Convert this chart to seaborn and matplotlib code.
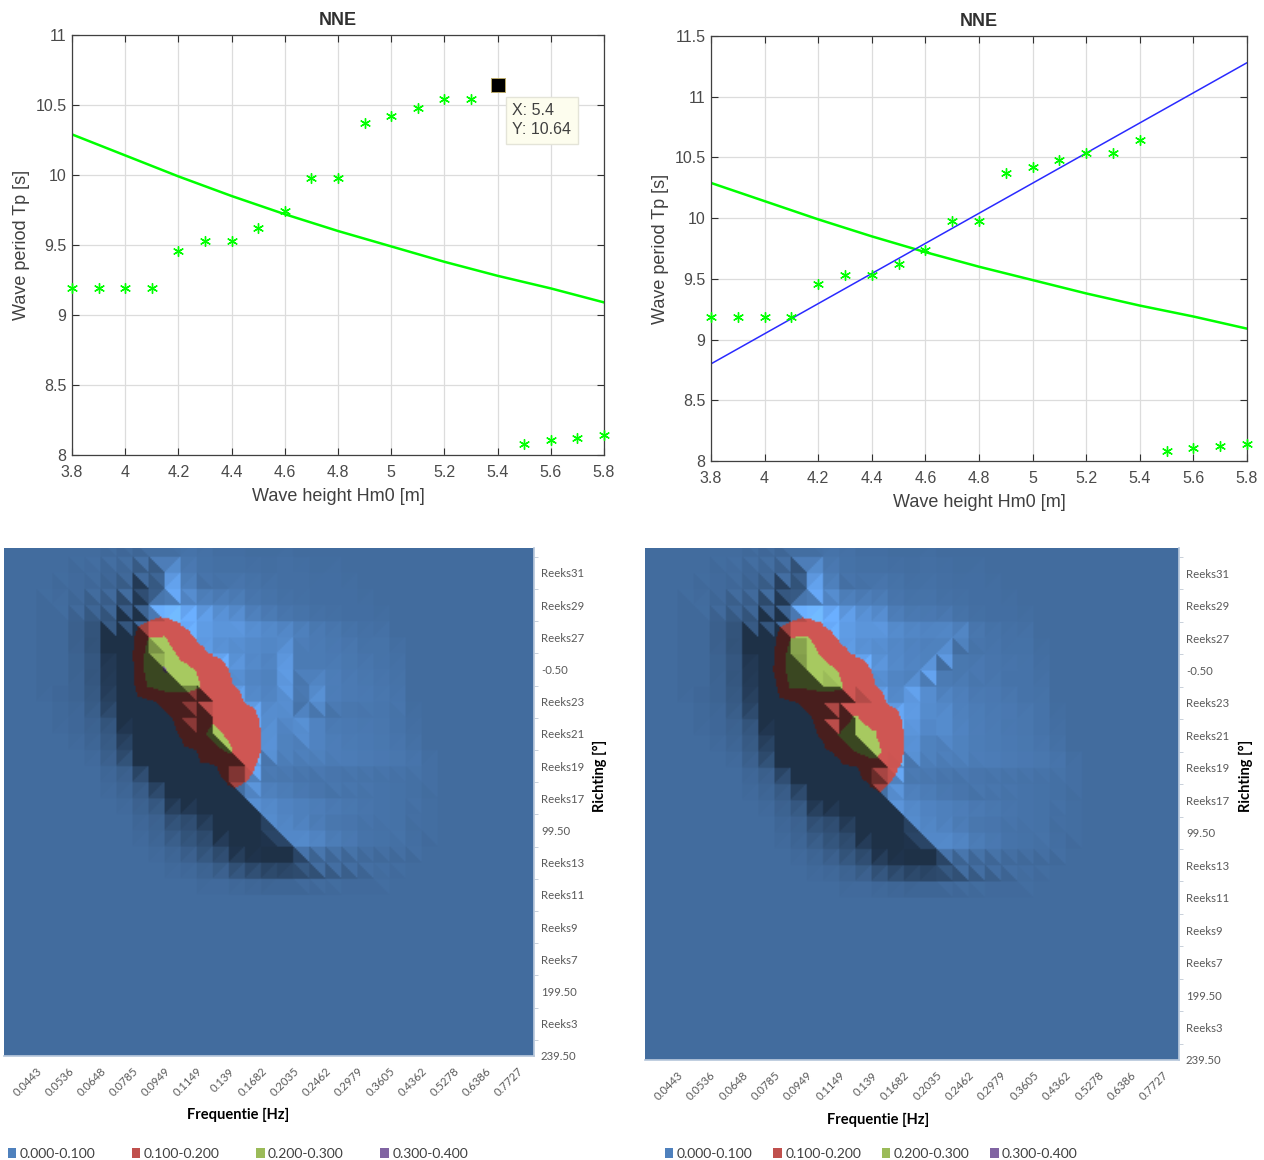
import numpy as np
import pandas as pd
import matplotlib
matplotlib.use("Agg")
import matplotlib.pyplot as plt
from matplotlib.patches import Patch
import seaborn as sns

# wave height / period points
hm0 = [3.8, 3.9, 4.0, 4.1, 4.2, 4.3, 4.4, 4.5, 4.6, 4.7, 4.8, 4.9, 5.0, 5.1, 5.2, 5.3, 5.4, 5.5, 5.6, 5.7, 5.8]
tp = [9.19, 9.19, 9.19, 9.19, 9.46, 9.53, 9.53, 9.62, 9.74, 9.98, 9.98, 10.37, 10.42, 10.48, 10.54, 10.54, 10.64, 8.08, 8.11, 8.12, 8.14]
curve_x = [3.8, 4.0, 4.2, 4.4, 4.6, 4.8, 5.0, 5.2, 5.4, 5.6, 5.8]
curve_y = [10.29, 10.14, 9.99, 9.85, 9.72, 9.6, 9.49, 9.38, 9.28, 9.19, 9.09]
fit_x = [3.8, 5.8]
fit_y = [8.8, 11.28]

freq_labels = ["0.0443", "0.0536", "0.0648", "0.0785", "0.0949", "0.1149", "0.139", "0.1682",
               "0.2035", "0.2462", "0.2979", "0.3605", "0.4362", "0.5278", "0.6386", "0.7727"]
dir_labels = ["239.50", "Reeks3", "199.50", "Reeks7", "Reeks9", "Reeks11", "Reeks13", "99.50",
              "Reeks17", "Reeks19", "Reeks21", "Reeks23", "-0.50", "Reeks27", "Reeks29", "Reeks31"]
band_labels = ["0.000-0.100", "0.100-0.200", "0.200-0.300", "0.300-0.400"]
band_colors = ["#4F81BD", "#C0504D", "#9BBB59", "#8064A2"]

# spectrum values x1000, series 33 (top) down to series 11, frequency columns 3..26
spec_left = [
    [0, 0, 0, 0, 0, 1, 2, 3, 3, 2, 1, 1, 0, 0, 0, 0, 0, 0, 0, 0, 0, 0, 0, 0],
    [0, 0, 0, 0, 1, 3, 6, 7, 8, 5, 3, 2, 1, 1, 1, 0, 0, 0, 0, 0, 0, 0, 0, 0],
    [0, 0, 1, 2, 5, 9, 18, 30, 14, 8, 6, 5, 4, 3, 3, 2, 1, 1, 0, 0, 0, 0, 0, 0],
    [0, 1, 2, 4, 8, 15, 35, 50, 22, 12, 12, 12, 9, 7, 5, 4, 3, 2, 1, 0, 0, 0, 0, 0],
    [1, 1, 3, 8, 15, 30, 55, 48, 38, 32, 28, 22, 15, 11, 8, 6, 4, 3, 2, 1, 0, 0, 0, 0],
    [1, 2, 6, 14, 25, 50, 100, 115, 92, 72, 55, 42, 28, 20, 14, 10, 7, 5, 3, 2, 1, 0, 0, 0],
    [1, 2, 6, 14, 35, 85, 200, 205, 125, 95, 78, 65, 52, 42, 34, 24, 17, 12, 8, 5, 3, 0, 0, 0],
    [1, 2, 5, 12, 30, 95, 235, 255, 175, 115, 95, 80, 68, 58, 50, 30, 24, 18, 13, 8, 5, 2, 0, 0],
    [1, 2, 5, 12, 28, 90, 240, 310, 235, 195, 130, 100, 82, 70, 60, 36, 30, 24, 17, 12, 7, 3, 0, 0],
    [1, 2, 4, 10, 25, 80, 210, 245, 250, 215, 140, 105, 88, 76, 66, 44, 42, 30, 22, 15, 9, 4, 0, 0],
    [0, 1, 3, 8, 20, 45, 85, 115, 130, 135, 145, 125, 98, 84, 72, 55, 54, 34, 25, 18, 11, 5, 0, 0],
    [0, 1, 2, 5, 12, 30, 55, 85, 115, 135, 185, 150, 125, 95, 78, 62, 42, 30, 24, 17, 11, 5, 1, 0],
    [0, 0, 1, 3, 8, 22, 45, 75, 105, 165, 225, 185, 135, 100, 78, 64, 46, 34, 26, 19, 12, 6, 2, 0],
    [0, 0, 0, 1, 5, 15, 35, 60, 80, 100, 175, 215, 150, 100, 76, 62, 50, 38, 29, 21, 14, 8, 3, 0],
    [0, 0, 0, 0, 2, 6, 18, 40, 60, 75, 90, 130, 125, 85, 72, 60, 50, 40, 32, 24, 17, 11, 6, 2],
    [0, 0, 0, 0, 1, 3, 8, 20, 40, 55, 75, 105, 100, 75, 63, 52, 43, 35, 27, 20, 14, 9, 5, 2],
    [0, 0, 0, 0, 0, 1, 4, 10, 25, 40, 60, 78, 92, 74, 60, 48, 38, 30, 24, 18, 13, 8, 4, 1],
    [0, 0, 0, 0, 0, 0, 2, 5, 14, 22, 35, 52, 68, 80, 64, 52, 42, 33, 25, 18, 12, 7, 3, 1],
    [0, 0, 0, 0, 0, 0, 1, 3, 8, 14, 22, 38, 52, 64, 70, 56, 42, 30, 22, 15, 10, 6, 2, 1],
    [0, 0, 0, 0, 0, 0, 0, 1, 3, 7, 13, 20, 33, 46, 56, 62, 46, 32, 22, 14, 9, 5, 2, 0],
    [0, 0, 0, 0, 0, 0, 0, 0, 1, 2, 4, 8, 14, 20, 25, 28, 24, 16, 10, 6, 3, 1, 0, 0],
    [0, 0, 0, 0, 0, 0, 0, 0, 0, 0, 1, 1, 2, 3, 4, 4, 3, 2, 1, 1, 1, 0, 0, 0],
    [0, 0, 0, 0, 0, 0, 0, 0, 0, 0, 0, 0, 0, 0, 0, 0, 0, 0, 0, 0, 0, 0, 0, 0],
]
spec_right = [
    [0, 0, 0, 0, 0, 1, 2, 3, 3, 2, 1, 1, 0, 0, 0, 0, 0, 0, 0, 0, 0, 0, 0, 0],
    [0, 0, 0, 0, 1, 3, 6, 7, 8, 5, 3, 2, 1, 1, 1, 0, 0, 0, 0, 0, 0, 0, 0, 0],
    [0, 0, 1, 2, 5, 9, 16, 30, 14, 8, 6, 5, 4, 3, 3, 2, 1, 1, 0, 0, 0, 0, 0, 0],
    [0, 1, 2, 4, 8, 15, 33, 50, 22, 12, 12, 12, 9, 7, 6, 4, 3, 2, 1, 0, 0, 0, 0, 0],
    [1, 1, 3, 8, 15, 30, 55, 48, 38, 32, 28, 22, 15, 12, 10, 7, 5, 3, 2, 1, 0, 0, 0, 0],
    [1, 2, 6, 14, 25, 50, 100, 115, 92, 72, 55, 42, 28, 22, 18, 14, 8, 5, 3, 2, 1, 0, 0, 0],
    [1, 2, 6, 14, 35, 85, 200, 215, 125, 95, 78, 65, 52, 44, 38, 32, 24, 12, 8, 5, 3, 0, 0, 0],
    [1, 2, 5, 12, 30, 100, 235, 250, 185, 115, 95, 80, 68, 58, 50, 42, 18, 14, 11, 7, 4, 1, 0, 0],
    [1, 2, 5, 12, 28, 105, 240, 280, 235, 195, 130, 100, 82, 70, 60, 30, 24, 20, 14, 10, 6, 2, 0, 0],
    [1, 2, 4, 10, 25, 80, 210, 215, 230, 215, 140, 105, 88, 76, 50, 36, 30, 22, 17, 11, 7, 3, 0, 0],
    [0, 1, 3, 8, 20, 45, 85, 115, 135, 135, 135, 125, 98, 84, 62, 48, 36, 27, 20, 14, 8, 4, 0, 0],
    [0, 1, 2, 5, 12, 30, 55, 85, 125, 145, 215, 150, 125, 95, 72, 58, 42, 32, 24, 17, 11, 5, 1, 0],
    [0, 0, 1, 3, 8, 22, 45, 75, 110, 205, 255, 225, 140, 100, 78, 64, 48, 36, 27, 19, 12, 6, 2, 0],
    [0, 0, 0, 1, 5, 15, 35, 60, 80, 115, 200, 245, 170, 100, 76, 62, 50, 38, 29, 21, 14, 8, 3, 0],
    [0, 0, 0, 0, 2, 6, 18, 40, 60, 75, 90, 140, 125, 85, 72, 60, 50, 40, 32, 24, 17, 11, 6, 2],
    [0, 0, 0, 0, 1, 3, 8, 20, 40, 55, 75, 105, 100, 75, 63, 52, 43, 35, 27, 20, 14, 9, 5, 2],
    [0, 0, 0, 0, 0, 1, 4, 10, 25, 40, 60, 78, 95, 74, 60, 48, 38, 30, 24, 18, 13, 8, 4, 1],
    [0, 0, 0, 0, 0, 0, 2, 5, 14, 22, 35, 52, 68, 80, 64, 52, 42, 33, 25, 18, 12, 7, 3, 1],
    [0, 0, 0, 0, 0, 0, 1, 3, 8, 14, 22, 38, 52, 64, 70, 56, 42, 30, 22, 15, 10, 6, 2, 1],
    [0, 0, 0, 0, 0, 0, 0, 1, 3, 7, 13, 20, 33, 46, 56, 62, 46, 32, 22, 14, 9, 5, 2, 0],
    [0, 0, 0, 0, 0, 0, 0, 0, 1, 2, 4, 8, 14, 20, 25, 28, 24, 16, 10, 6, 3, 1, 0, 0],
    [0, 0, 0, 0, 0, 0, 0, 0, 0, 0, 1, 1, 2, 3, 4, 4, 3, 2, 1, 1, 1, 0, 0, 0],
    [0, 0, 0, 0, 0, 0, 0, 0, 0, 0, 0, 0, 0, 0, 0, 0, 0, 0, 0, 0, 0, 0, 0, 0],
]

W, H = 1264, 1160
GREEN = "#00ff00"
sns.set_theme(style="white")
plt.rcParams["font.family"] = ["Liberation Sans", "DejaVu Sans"]

fig = plt.figure(figsize=(W / 100, H / 100), dpi=100, facecolor="white")


def ax_px(x0, y0, x1, y1):
    return fig.add_axes([x0 / W, 1 - y1 / H, (x1 - x0) / W, (y1 - y0) / H])


def wave_panel(ax, ymax, yticks, show_fit):
    points = pd.DataFrame({"hm0": hm0, "tp": tp})
    if not show_fit:
        points = points[points["hm0"] != 5.4]
    sns.scatterplot(data=points, x="hm0", y="tp", marker=(6, 2, 0), s=50, color=GREEN,
                    linewidth=1, ax=ax, zorder=3, clip_on=False)
    sns.lineplot(x=curve_x, y=curve_y, color=GREEN, linewidth=1.8, ax=ax, zorder=2)
    if show_fit:
        sns.lineplot(x=fit_x, y=fit_y, color="#2a2aff", linewidth=1.1, ax=ax, zorder=2)

    ax.set_xlim(3.8, 5.8)
    ax.set_ylim(8, ymax)
    ax.set_xticks(np.arange(3.8, 5.81, 0.2))
    ax.set_xticklabels(["3.8", "4", "4.2", "4.4", "4.6", "4.8", "5", "5.2", "5.4", "5.6", "5.8"])
    ax.set_yticks(yticks)
    ax.set_yticklabels([f"{t:g}" for t in yticks])
    ax.grid(True, color="#dcdcdc", linewidth=0.9)
    ax.set_axisbelow(True)
    ax.tick_params(direction="in", length=5, width=0.8, color="#303030", labelcolor="#4a4a4a",
                   labelsize=11.5, top=True, right=True, bottom=True, left=True)
    ax.tick_params(axis="x", pad=7)
    ax.tick_params(axis="y", pad=4)
    for s in ax.spines.values():
        s.set_color("#404040")
        s.set_linewidth(0.9)
    ax.set_xlabel("Wave height Hm0 [m]", fontsize=13, color="#404040", labelpad=6)
    ax.set_ylabel("Wave period Tp [s]", fontsize=13, color="#404040", labelpad=4)
    ax.set_title("NNE", fontsize=13, fontweight="bold", color="#303030", pad=7)


def shaded_surface(spec):
    # excel style surface seen from above: each cell is cut along its higher diagonal, lit from the right
    z = np.zeros((33, 34))
    z[10:33, 3:27] = np.array(spec)[::-1] / 1000
    sub = 10
    frac = (np.arange(sub) + 0.5) / sub
    ny, nx = z.shape[0] - 1, z.shape[1] - 1
    img = np.zeros((ny * sub, nx * sub, 3))
    colors = np.array([matplotlib.colors.to_rgb(c) for c in band_colors])
    top_light = np.array([1.45, 1.08, 1.08, 1.08])
    fy, fx = np.meshgrid(frac, frac, indexing="ij")
    for r in range(ny):
        for c in range(nx):
            ll, lr, ul, ur = z[r, c], z[r, c + 1], z[r + 1, c], z[r + 1, c + 1]
            if ll + ur >= ul + lr:
                first = fx >= fy
                val = np.where(first, ll + (lr - ll) * fx + (ur - lr) * fy, ll + (ur - ul) * fx + (ul - ll) * fy)
                dzdx = np.where(first, lr - ll, ur - ul)
                dzdy = np.where(first, ur - lr, ul - ll)
            else:
                first = fx + fy <= 1
                val = np.where(first, ll + (lr - ll) * fx + (ul - ll) * fy,
                               ur + (ul - ur) * (1 - fx) + (lr - ur) * (1 - fy))
                dzdx = np.where(first, lr - ll, ur - ul)
                dzdy = np.where(first, ul - ll, ur - lr)
            slope = dzdx + 0.5 * dzdy
            band = np.clip((val / 0.1).astype(int), 0, 3)
            light = 0.84 - np.where(slope > 0, 23, 13) * slope
            light = np.minimum(np.clip(light, 0.38, 1.45), top_light[band])
            img[r * sub:(r + 1) * sub, c * sub:(c + 1) * sub] = np.clip(colors[band] * light[..., None], 0, 1)
    return img


def surface_panel(ax, spec):
    ax.imshow(shaded_surface(spec), origin="lower", extent=[0, 33, 0, 32], aspect="auto",
              interpolation="bilinear")
    ax.set_xlim(0, 33)
    ax.set_ylim(0, 31.55)
    ax.yaxis.tick_right()
    ax.set_yticks(np.arange(0, 31, 2))
    ax.set_yticklabels(dir_labels)
    ax.set_yticks(np.arange(1, 32, 2), minor=True)
    ax.set_xticks(np.arange(1, 33, 2), minor=True)
    ax.set_xticks(np.arange(2, 33, 2))
    ax.set_xticklabels(freq_labels, rotation=45, ha="right", rotation_mode="anchor", fontfamily="Lato")
    ax.tick_params(which="major", length=0, labelsize=8.2, labelcolor="#595959", pad=5)
    ax.tick_params(axis="x", which="major", pad=7)
    ax.tick_params(which="minor", length=3, width=0.7, color="#c8d0da", right=True, left=False)
    for lab in ax.get_yticklabels():
        lab.set_fontfamily("Lato")
    ax.spines["left"].set_visible(False)
    ax.spines["top"].set_visible(False)
    ax.spines["right"].set_color("#b8c8dc")
    ax.spines["bottom"].set_color("#b8c8dc")


def band_legend(x, spacing):
    handles = [Patch(facecolor=c, edgecolor="none") for c in band_colors]
    fig.legend(handles, band_labels, ncol=4, loc="lower left", bbox_to_anchor=(x / W, 1 - 1160 / H),
               frameon=False, handlelength=0.6, handleheight=0.7, handletextpad=0.25,
               columnspacing=spacing, borderpad=0, borderaxespad=0,
               labelcolor="#404040", prop={"family": "Lato", "size": 10})


ax1 = ax_px(72, 35, 604, 455)
wave_panel(ax1, 11, [8, 8.5, 9, 9.5, 10, 10.5, 11], False)
ax1.scatter([hm0[16]], [tp[16]], marker="s", s=95, color="black", edgecolor="#b8a868", linewidth=0.7, zorder=4)
ax1.text(5.455, 10.39, f"X: {hm0[16]:g}\nY: {tp[16]:g}", fontsize=11.5, color="#404040", va="center", zorder=5,
         linespacing=1.35, bbox=dict(boxstyle="square,pad=0.42", fc="#fdfdee", ec="#e4e4d8", linewidth=1))

ax2 = ax_px(711, 36, 1247, 461)
wave_panel(ax2, 11.5, [8, 8.5, 9, 9.5, 10, 10.5, 11, 11.5], True)

ax3 = ax_px(4, 548, 534, 1056)
surface_panel(ax3, spec_left)
ax4 = ax_px(645, 548, 1179, 1060)
surface_panel(ax4, spec_right)

for ax, x_mid, x_side in [(ax3, 238, 600), (ax4, 878, 1246)]:
    fig.text(x_mid / W, 1 - (1115 if ax is ax3 else 1120) / H, "Frequentie [Hz]", fontsize=10.5,
             fontweight="bold", fontfamily="Lato", color="black", ha="center", va="center")
    fig.text(x_side / W, 1 - 776 / H, "Richting [°]", fontsize=10.5, fontweight="bold", fontfamily="Lato",
             color="black", rotation=90, ha="center", va="center")

band_legend(8, 2.63)
band_legend(665, 1.5)

fig.savefig("out.png", dpi=100)
